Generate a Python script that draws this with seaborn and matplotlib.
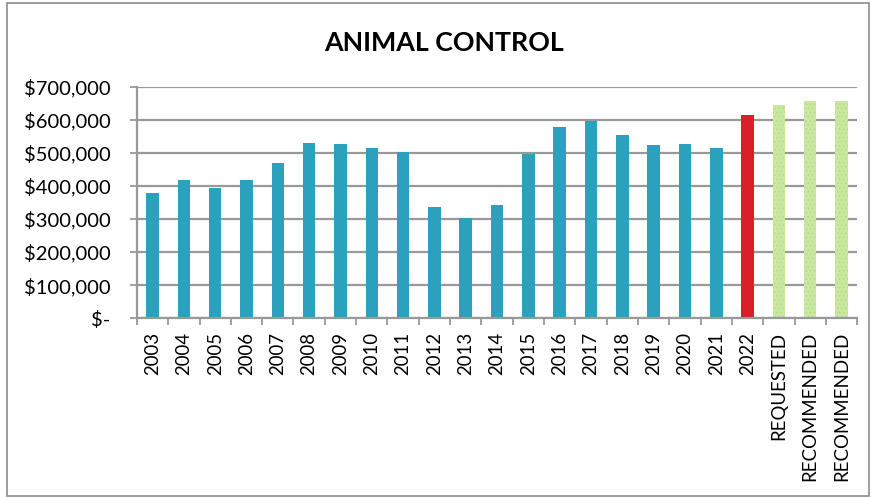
import matplotlib
matplotlib.use("Agg")
import matplotlib.pyplot as plt
from matplotlib.patches import Rectangle
from matplotlib.ticker import FuncFormatter, FixedLocator
import seaborn as sns
import pandas as pd

# Annual animal control budget
labels = ["2003", "2004", "2005", "2006", "2007", "2008", "2009", "2010", "2011",
          "2012", "2013", "2014", "2015", "2016", "2017", "2018", "2019", "2020",
          "2021", "2022", "REQUESTED", "RECOMMENDED", "RECOMMENDED"]
values = [380000, 417000, 395000, 417000, 469000, 530000, 526000, 516000, 502000,
          337000, 303000, 341000, 496000, 577000, 596000, 554000, 523000, 527000,
          515000, 614000, 644000, 656000, 656000]
groups = ["actual"] * 19 + ["current"] + ["proposed"] * 3
palette = {"actual": "#2CA1BE", "current": "#D9202A", "proposed": "#C8E89F"}

df = pd.DataFrame({"slot": [f"s{i}" for i in range(len(labels))],
                   "value": values, "group": groups})

sns.set_theme(style="white")
plt.rcParams["font.family"] = ["Lato", "DejaVu Sans"]
plt.rcParams["hatch.linewidth"] = 0.5

fig = plt.figure(figsize=(8.72, 4.98), dpi=100)
ax = fig.add_axes([0.157, 0.361, 0.826, 0.465])

sns.barplot(data=df, x="slot", y="value", hue="group", palette=palette,
            width=0.4, dodge=False, legend=False, ax=ax, saturation=1)

for patch, g in zip(ax.patches, groups):
    patch.set_linewidth(0)
    if g == "proposed":
        patch.set_hatch("....")
        patch.set_edgecolor("#B4D98A")

ax.set_xlim(-0.5, len(labels) - 0.5)
ax.set_ylim(0, 700000)
ax.set_yticks(range(0, 700001, 100000))
ax.yaxis.set_major_formatter(FuncFormatter(
    lambda v, p: "$-" if v == 0 else f"${int(v):,}"))
ax.yaxis.grid(True, color="#999999", linewidth=1.6)
ax.set_axisbelow(True)

ax.set_xticks(range(len(labels)))
ax.set_xticklabels(labels, rotation=90)
ax.xaxis.set_minor_locator(FixedLocator([i - 0.5 for i in range(len(labels) + 1)]))
ax.tick_params(axis="x", which="major", length=0, pad=10, labelsize=13.4, colors="black")
ax.tick_params(axis="x", which="minor", length=5, width=1.3, color="#999999", bottom=True)
ax.tick_params(axis="y", which="major", length=5, width=1.3, color="#999999", left=True,
               labelsize=14.5, pad=14, labelcolor="black")

for side in ["top", "right"]:
    ax.spines[side].set_visible(False)
for side in ["left", "bottom"]:
    ax.spines[side].set_color("#999999")
    ax.spines[side].set_linewidth(1.6)

ax.set_xlabel("")
ax.set_ylabel("")

fig.text(0.509, 0.913, "ANIMAL CONTROL", ha="center", va="center",
         fontsize=19.3, fontweight="bold", color="black")

fig.patches.append(Rectangle((0.008, 0.004), 0.988, 0.99, transform=fig.transFigure,
                             fill=False, edgecolor="#8C8C8C", linewidth=1.2))

fig.savefig("out.png", dpi=100)
